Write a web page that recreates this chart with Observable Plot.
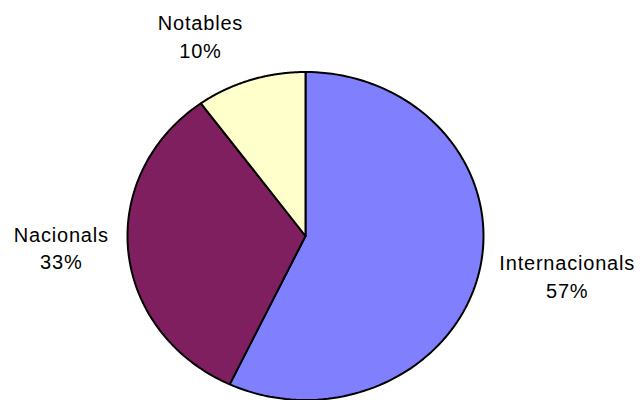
<!DOCTYPE html>
<html>
<head>
<meta charset="utf-8">
<script src="https://cdn.jsdelivr.net/npm/d3@7"></script>
<script src="https://cdn.jsdelivr.net/npm/@observablehq/plot@0.6"></script>
<style>
  html, body { margin: 0; padding: 0; background: #fff; }
  svg text { letter-spacing: 0.8px; }
</style>
</head>
<body>
<div id="chart"></div>
<script>
const categories = ["Internacionals", "Nacionals", "Notables"];
const values = [57, 33, 10];
const colors = ["#8080FF", "#7F1F5F", "#FFFFCC"];

const arcs = d3.pie().sort(null).value(d => d)(values);

// Build slice outlines (ellipse via separate x/y scale ranges)
const slices = [];
const labels = [];
arcs.forEach((a, i) => {
  const n = 120;
  slices.push({label: categories[i], x: 0, y: 0});
  for (let k = 0; k <= n; k++) {
    const t = a.startAngle + (a.endAngle - a.startAngle) * k / n;
    slices.push({label: categories[i], x: Math.sin(t), y: Math.cos(t)});
  }
  slices.push({label: categories[i], x: 0, y: 0});
  const m = (a.startAngle + a.endAngle) / 2;
  labels.push({label: categories[i], text: `${categories[i]}\n${values[i]}%`, x: Math.sin(m), y: Math.cos(m)});
});

const labelOffsets = {
  "Internacionals": [88, 26],
  "Nacionals": [-67, 18],
  "Notables": [-50, -22]
};

const textMarks = categories.map(c => Plot.text(labels.filter(d => d.label === c), {
  x: "x", y: "y", text: "text",
  dx: labelOffsets[c][0], dy: labelOffsets[c][1],
  textAnchor: "middle", lineAnchor: "bottom", lineHeight: 1.38,
  fill: "#000", fontSize: 20
}));

const chart = Plot.plot({
  width: 641,
  height: 400,
  marginLeft: 127,
  marginRight: 158,
  marginTop: 71.5,
  marginBottom: 0.5,
  x: {domain: [-1, 1], axis: null},
  y: {domain: [-1, 1], axis: null},
  color: {domain: categories, range: colors},
  style: {fontFamily: "'Liberation Sans', Arial, sans-serif", background: "#fff", overflow: "visible"},
  marks: [
    Plot.line(slices, {x: "x", y: "y", z: "label", fill: "label", stroke: "#000", strokeWidth: 2, strokeLinejoin: "miter"}),
    ...textMarks
  ]
});
document.getElementById("chart").appendChild(chart);
</script>
</body>
</html>
